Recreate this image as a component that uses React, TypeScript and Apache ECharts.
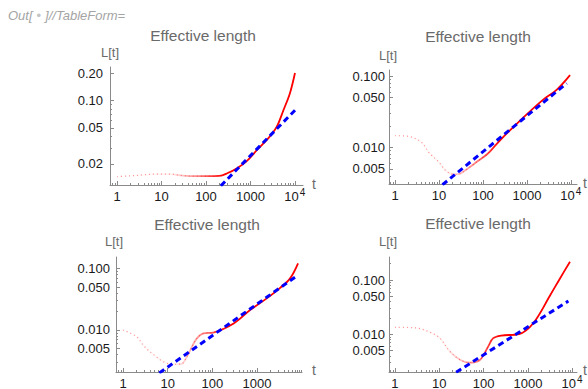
import React, { useEffect, useRef } from "react";
import * as echarts from "echarts";

// ---------------- data ----------------
const headerLeft = "Out[";
const headerDot = "•";
const headerRight = "]//TableForm=";
const titleText = "Effective length";
const yName = "L[t]";
const xName = "t";

const xTicksFull = [1, 10, 100, 1000, 10000];
const xTicksShort = [1, 10, 100, 1000];
// tick label = base + superscript exponent
const xTickBase = ["1", "10", "100", "1000", "10"];
const xTickSup = ["", "", "", "", "4"];

// Panel 1
const p1RedT = [1, 2, 4, 8, 15, 30, 60, 100, 200, 300, 500, 800, 1400, 2700, 3900, 5500, 7700, 10000];
const p1RedL = [0.0145, 0.0148, 0.0152, 0.0155, 0.0155, 0.0149, 0.0147, 0.0147, 0.0148, 0.0158, 0.018, 0.0212, 0.0285, 0.04, 0.0514, 0.078, 0.12, 0.2];
const p1BlueT = [150, 10000];
const p1BlueL = [0.0096, 0.078];
const p1YTicks = [0.02, 0.05, 0.1, 0.2];
const p1YLabels = ["0.02", "0.05", "0.10", "0.20"];

// Panel 2
const p2RedT = [1, 2, 4, 6, 10, 15, 23, 30, 50, 75, 120, 145, 250, 800, 2300, 4700, 9500];
const p2RedL = [0.0146, 0.0143, 0.0118, 0.0084, 0.0062, 0.0046, 0.0042, 0.0043, 0.0053, 0.0064, 0.0079, 0.0088, 0.0128, 0.0257, 0.0463, 0.064, 0.103];
const p2BlueT = [12, 8000];
const p2BlueL = [0.003, 0.079];
const p2YTicks = [0.005, 0.01, 0.05, 0.1];
const p2YLabels = ["0.005", "0.010", "0.050", "0.100"];

// Panel 3
const p3RedT = [1, 2, 3, 5, 8, 13, 20, 27, 35, 45, 63, 105, 300, 700, 1650, 3200, 5500, 8300];
const p3RedL = [0.01, 0.0078, 0.0054, 0.0039, 0.00305, 0.00277, 0.0028, 0.00368, 0.00537, 0.0073, 0.0088, 0.0091, 0.0128, 0.0211, 0.0327, 0.0476, 0.069, 0.121];
const p3BlueT = [6.5, 8300];
const p3BlueL = [0.002, 0.078];
const p3YTicks = [0.005, 0.01, 0.05, 0.1];
const p3YLabels = ["0.005", "0.010", "0.050", "0.100"];

// Panel 4
const p4RedT = [1, 2.8, 6.2, 10.5, 17, 30, 49, 80, 105, 130, 165, 250, 630, 1320, 3160, 5300, 8900];
const p4RedL = [0.01345, 0.0132, 0.0109, 0.0084, 0.0049, 0.00337, 0.003, 0.0033, 0.0045, 0.0062, 0.0085, 0.0095, 0.0101, 0.016, 0.052, 0.107, 0.217];
const p4BlueT = [24, 8200];
const p4BlueL = [0.002, 0.041];
const p4YTicks = [0.005, 0.01, 0.05, 0.1];
const p4YLabels = ["0.005", "0.010", "0.050", "0.100"];

// ---------------- layout ----------------
const panels = [
  { redT: p1RedT, redL: p1RedL, blueT: p1BlueT, blueL: p1BlueL, yTicks: p1YTicks, yLabels: p1YLabels, xTicks: xTicksFull },
  { redT: p2RedT, redL: p2RedL, blueT: p2BlueT, blueL: p2BlueL, yTicks: p2YTicks, yLabels: p2YLabels, xTicks: xTicksFull },
  { redT: p3RedT, redL: p3RedL, blueT: p3BlueT, blueL: p3BlueL, yTicks: p3YTicks, yLabels: p3YLabels, xTicks: xTicksShort },
  { redT: p4RedT, redL: p4RedL, blueT: p4BlueT, blueL: p4BlueL, yTicks: p4YTicks, yLabels: p4YLabels, xTicks: xTicksFull },
];

const layouts = [
  { left: 110, top: 67, width: 193, height: 118, xMin: -0.157, xMax: 4.18, yMin: -1.93, yMax: -0.633, yMargin: 7, titleX: 203, titleY: 35, yNameX: 110, yNameY: 52, xNameX: 314, xNameY: 184 },
  { left: 389, top: 70, width: 188, height: 114, xMin: -0.136, xMax: 4.136, yMin: -2.512, yMax: -0.916, yMargin: 4, titleX: 478, titleY: 36, yNameX: 388, yNameY: 55, xNameX: 585, xNameY: 183 },
  { left: 116, top: 257, width: 186, height: 115, xMin: -0.157, xMax: 4.007, yMin: -2.683, yMax: -0.813, yMargin: 6, titleX: 207, titleY: 224, yNameX: 114, yNameY: 241, xNameX: 314, xNameY: 370 },
  { left: 389, top: 257, width: 188, height: 115, xMin: -0.135, xMax: 4.108, yMin: -2.694, yMax: -0.576, yMargin: 4, titleX: 478, titleY: 223, yNameX: 388, yNameY: 241, xNameX: 585, xNameY: 370 },
];

const FONT = "'Liberation Sans', Arial, sans-serif";
const AXIS_COLOR = "#8a8a8a";
const TEXT_GRAY = "#6a6a6a";
const LABEL_COLOR = "#1a1a1a";

const lg = (v: number) => Math.log10(v);

function minorTicks(min: number, max: number, majors: number[]) {
  const out: number[] = [];
  for (let n = -4; n <= 4; n++) {
    for (let k = 1; k <= 9; k++) {
      const v = lg(k * Math.pow(10, n));
      if (v >= min && v <= max && !majors.some((m) => Math.abs(m - v) < 1e-6)) out.push(v);
    }
  }
  return out;
}

function nearestIndex(v: number, vals: number[]) {
  let best = 0;
  let bd = Infinity;
  vals.forEach((x, i) => {
    const d = Math.abs(x - v);
    if (d < bd) {
      bd = d;
      best = i;
    }
  });
  return best;
}

export default function App() {
  const ref = useRef<HTMLDivElement>(null);

  useEffect(() => {
    if (!ref.current) return;
    const chart = echarts.init(ref.current, null, { renderer: "svg" });

    const grid: any[] = [];
    const xAxis: any[] = [];
    const yAxis: any[] = [];
    const series: any[] = [];
    const graphic: any[] = [];

    graphic.push({
      type: "text",
      x: 8,
      y: 15,
      style: {
        text: headerLeft + "{d|" + headerDot + "}" + headerRight,
        fill: "#a4a4a4",
        fontStyle: "italic",
        fontSize: 13,
        fontFamily: FONT,
        textVerticalAlign: "middle",
        rich: { d: { fill: "#c4c4c4", fontSize: 13, fontFamily: FONT, padding: [0, 4, 0, 4] } },
      },
    });

    const xLabelVals = xTicksFull.map(lg);

    panels.forEach((p, i) => {
      const L = layouts[i];
      grid.push({ left: L.left, top: L.top, width: L.width, height: L.height, containLabel: false, outerBoundsMode: "none" });

      const xMajor = p.xTicks.map(lg);
      const yMajor = p.yTicks.map(lg);
      const xMinor = minorTicks(L.xMin, L.xMax, xMajor);
      const yMinor = minorTicks(L.yMin, L.yMax, yMajor);
      const xSupVals = xMajor.filter((v) => xTickSup[nearestIndex(v, xLabelVals)] !== "");

      // main x axis: line, major ticks, base labels
      xAxis.push({
        gridIndex: i,
        type: "value",
        position: "bottom",
        min: L.xMin,
        max: L.xMax,
        axisLine: { show: true, onZero: false, lineStyle: { color: AXIS_COLOR, width: 1 } },
        axisTick: { show: true, inside: true, length: 4, customValues: xMajor, lineStyle: { color: AXIS_COLOR } },
        axisLabel: {
          show: true,
          customValues: xMajor,
          margin: 5,
          formatter: (v: number) => {
            const k = nearestIndex(v, xLabelVals);
            return (xTickSup[k] ? "{e|" : "{b|") + xTickBase[k] + "}";
          },
          rich: {
            b: { fontSize: 13, fontFamily: FONT, color: LABEL_COLOR, lineHeight: 12 },
            e: { fontSize: 13, fontFamily: FONT, color: LABEL_COLOR, lineHeight: 12, padding: [0, 7, 0, 0] },
          },
        },
        splitLine: { show: false },
      });
      // second x axis: minor ticks + superscript exponents
      xAxis.push({
        gridIndex: i,
        type: "value",
        position: "bottom",
        offset: 0,
        min: L.xMin,
        max: L.xMax,
        axisLine: { show: false, onZero: false },
        axisTick: { show: true, inside: true, length: 2, customValues: xMinor, lineStyle: { color: AXIS_COLOR } },
        axisLabel: {
          show: xSupVals.length > 0,
          customValues: xSupVals,
          margin: 2,
          formatter: (v: number) => "{s|" + xTickSup[nearestIndex(v, xLabelVals)] + "}",
          rich: {
            s: { fontSize: 10, fontFamily: FONT, color: LABEL_COLOR, lineHeight: 10, padding: [0, 0, 0, 15] },
          },
        },
        splitLine: { show: false },
      });

      yAxis.push({
        gridIndex: i,
        type: "value",
        position: "left",
        min: L.yMin,
        max: L.yMax,
        axisLine: { show: true, onZero: false, lineStyle: { color: AXIS_COLOR, width: 1 } },
        axisTick: { show: true, inside: true, length: 4, customValues: yMajor, lineStyle: { color: AXIS_COLOR } },
        axisLabel: {
          show: true,
          customValues: yMajor,
          margin: L.yMargin,
          fontSize: 13,
          fontFamily: FONT,
          color: LABEL_COLOR,
          formatter: (v: number) => p.yLabels[nearestIndex(v, yMajor)],
        },
        splitLine: { show: false },
      });
      yAxis.push({
        gridIndex: i,
        type: "value",
        position: "left",
        offset: 0,
        min: L.yMin,
        max: L.yMax,
        axisLine: { show: false, onZero: false },
        axisTick: { show: true, inside: true, length: 2, customValues: yMinor, lineStyle: { color: AXIS_COLOR } },
        axisLabel: { show: false },
        splitLine: { show: false },
      });

      const redData = p.redT.map((t, j) => [lg(t), lg(p.redL[j])]);

      series.push({
        type: "line",
        name: "Lsparse" + i,
        xAxisIndex: 2 * i,
        yAxisIndex: 2 * i,
        data: redData,
        showSymbol: false,
        smooth: 0.35,
        clip: true,
        lineStyle: { width: 1.2, color: "rgba(255,40,40,0.5)", type: [1, 3] },
        z: 2,
      });
      const redGrad = new echarts.graphic.LinearGradient(0, 0, 1, 0, [
        { offset: 0, color: "rgba(255,0,0,0)" },
        { offset: 0.3, color: "rgba(255,0,0,0.05)" },
        { offset: 0.45, color: "rgba(255,0,0,0.45)" },
        { offset: 0.6, color: "rgba(255,0,0,1)" },
        { offset: 1, color: "rgba(255,0,0,1)" },
      ]);
      series.push({
        type: "line",
        name: "L" + i,
        xAxisIndex: 2 * i,
        yAxisIndex: 2 * i,
        data: redData,
        showSymbol: false,
        smooth: 0.35,
        clip: true,
        lineStyle: { width: 1.8, color: redGrad },
        z: 3,
      });
      series.push({
        type: "line",
        name: "fit" + i,
        xAxisIndex: 2 * i,
        yAxisIndex: 2 * i,
        data: p.blueT.map((t, j) => [lg(t), lg(p.blueL[j])]),
        showSymbol: false,
        clip: true,
        lineStyle: { width: 3, color: "#0000ff", type: [6, 4] },
        z: 4,
      });

      graphic.push({
        type: "text",
        x: L.titleX,
        y: L.titleY,
        style: { text: titleText, fill: TEXT_GRAY, font: `15.5px ${FONT}`, textAlign: "center", textVerticalAlign: "middle" },
      });
      graphic.push({
        type: "text",
        x: L.yNameX,
        y: L.yNameY,
        style: { text: yName, fill: TEXT_GRAY, font: `13px ${FONT}`, textAlign: "center", textVerticalAlign: "middle" },
      });
      graphic.push({
        type: "text",
        x: L.xNameX,
        y: L.xNameY,
        style: { text: xName, fill: TEXT_GRAY, font: `14px ${FONT}`, textAlign: "center", textVerticalAlign: "middle" },
      });
    });

    chart.setOption({
      animation: false,
      backgroundColor: "#ffffff",
      grid,
      xAxis,
      yAxis,
      series,
      graphic,
    });

    return () => chart.dispose();
  }, []);

  return (
    <div
      ref={ref}
      style={{ position: "fixed", left: 0, top: 0, width: 588, height: 389, background: "#fff" }}
    />
  );
}
